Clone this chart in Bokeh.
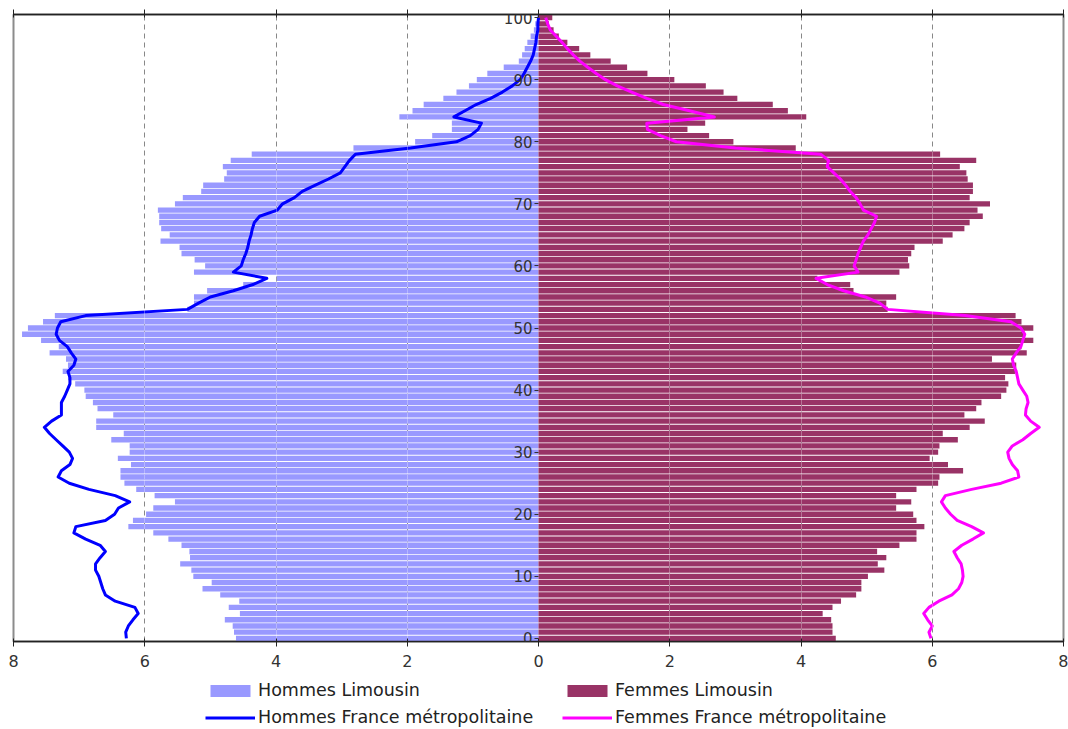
from bokeh.plotting import figure
from bokeh.layouts import column
from bokeh.models import (ColumnDataSource, Range1d, FixedTicker, LinearAxis,
                          Legend, LegendItem, Grid)
from bokeh.embed import file_html
from bokeh.resources import INLINE

ages = list(range(101))

hommes_limousin = [
    4.61, 4.64, 4.66, 4.78, 4.55, 4.72, 4.56, 4.85, 5.12, 4.98,
    5.26, 5.29, 5.46, 5.31, 5.32, 5.44, 5.64, 5.87, 6.25, 6.18,
    5.98, 5.87, 5.54, 5.85, 6.13, 6.31, 6.37, 6.37, 6.21, 6.41,
    6.23, 6.23, 6.51, 6.32, 6.74, 6.74, 6.48, 6.72, 6.79, 6.90,
    6.92, 7.06, 7.17, 7.25, 7.17, 7.20, 7.45, 7.31, 7.58, 7.87,
    7.78, 7.55, 7.37, 5.35, 5.25, 5.25, 5.05, 4.50, 3.99, 5.25,
    5.08, 5.24, 5.44, 5.47, 5.76, 5.62, 5.75, 5.78, 5.78, 5.80,
    5.54, 5.42, 5.14, 5.11, 4.79, 4.75, 4.81, 4.69, 4.37, 2.82,
    1.88, 1.62, 1.32, 1.32, 2.12, 1.92, 1.75, 1.45, 1.25, 1.06,
    0.94, 0.78, 0.53, 0.30, 0.25, 0.21, 0.17, 0.12, 0.07, 0.05,
    0.02,
]

femmes_limousin = [
    4.53, 4.48, 4.48, 4.46, 4.33, 4.48, 4.61, 4.84, 4.92, 4.92,
    5.02, 5.27, 5.17, 5.30, 5.16, 5.50, 5.76, 5.76, 5.88, 5.76,
    5.71, 5.45, 5.68, 5.45, 5.76, 6.09, 6.11, 6.47, 6.24, 5.96,
    6.09, 6.11, 6.39, 6.16, 6.57, 6.80, 6.49, 6.67, 6.75, 7.05,
    7.13, 7.16, 7.11, 7.26, 7.28, 6.91, 7.44, 7.36, 7.54, 7.41,
    7.54, 7.36, 7.27, 5.32, 5.30, 5.45, 4.80, 4.75, 4.25, 5.50,
    5.65, 5.63, 5.68, 5.73, 6.16, 6.31, 6.49, 6.57, 6.77, 6.69,
    6.88, 6.57, 6.62, 6.62, 6.54, 6.52, 6.42, 6.67, 6.12, 3.92,
    2.97, 2.60, 2.27, 2.54, 4.08, 3.80, 3.57, 3.03, 2.82, 2.55,
    2.07, 1.66, 1.35, 1.10, 0.79, 0.62, 0.44, 0.31, 0.23, 0.16,
    0.21,
]

hommes_france = [
    6.28, 6.29, 6.25, 6.18, 6.10, 6.15, 6.45, 6.60, 6.64, 6.67,
    6.70, 6.75, 6.75, 6.68, 6.60, 6.68, 6.90, 7.08, 7.05, 6.60,
    6.46, 6.40, 6.23, 6.45, 6.85, 7.15, 7.32, 7.27, 7.14, 7.10,
    7.15, 7.25, 7.35, 7.45, 7.53, 7.42, 7.27, 7.27, 7.27, 7.22,
    7.18, 7.14, 7.14, 7.17, 7.08, 7.05, 7.12, 7.18, 7.30, 7.35,
    7.33, 7.28, 6.90, 5.35, 5.18, 5.00, 4.65, 4.35, 4.14, 4.65,
    4.53, 4.50, 4.46, 4.43, 4.41, 4.38, 4.36, 4.33, 4.25, 3.98,
    3.90, 3.72, 3.60, 3.40, 3.20, 3.02, 2.95, 2.88, 2.79, 1.95,
    1.25, 1.04, 0.92, 0.87, 1.29, 1.12, 0.95, 0.73, 0.55, 0.40,
    0.28, 0.22, 0.17, 0.12, 0.08, 0.06, 0.04, 0.03, 0.01, 0.01,
    0.00,
]

femmes_france = [
    5.98, 5.95, 6.00, 5.93, 5.87, 5.95, 6.10, 6.30, 6.40, 6.45,
    6.47, 6.46, 6.44, 6.38, 6.33, 6.45, 6.62, 6.78, 6.60, 6.38,
    6.28, 6.20, 6.14, 6.20, 6.60, 7.05, 7.32, 7.30, 7.22, 7.17,
    7.15, 7.22, 7.38, 7.50, 7.63, 7.50, 7.42, 7.43, 7.46, 7.44,
    7.38, 7.32, 7.30, 7.28, 7.24, 7.22, 7.28, 7.35, 7.38, 7.41,
    7.35, 7.20, 6.50, 5.32, 5.20, 4.98, 4.65, 4.40, 4.23, 4.87,
    4.81, 4.84, 4.87, 4.91, 4.95, 5.02, 5.07, 5.12, 5.15, 4.95,
    4.90, 4.84, 4.75, 4.68, 4.60, 4.50, 4.40, 4.42, 4.30, 3.00,
    2.10, 1.86, 1.66, 1.65, 2.68, 2.30, 1.90, 1.65, 1.42, 1.20,
    1.02, 0.88, 0.75, 0.63, 0.53, 0.44, 0.36, 0.27, 0.18, 0.14,
    0.11,
]

x_ticks = [-8, -6, -4, -2, 0, 2, 4, 6, 8]
x_tick_labels = {t: str(abs(t)) for t in x_ticks}
grid_ticks = [-6, -4, -2, 2, 4, 6]
y_ticks = list(range(0, 101, 10))

label_hl = "Hommes Limousin"
label_fl = "Femmes Limousin"
label_hf = "Hommes France métropolitaine"
label_ff = "Femmes France métropolitaine"

COL_HL = "#9999ff"
COL_FL = "#993366"
COL_HF = "#0000ff"
COL_FF = "#ff00ff"

src = ColumnDataSource(data=dict(
    age=ages,
    hl=[-v for v in hommes_limousin],
    fl=femmes_limousin,
    hf=[-v for v in hommes_france],
    ff=femmes_france,
))

FONT = "DejaVu Sans"
TXT = "#333333"

p = figure(width=1068, height=680, output_backend="svg", toolbar_location=None,
           x_range=Range1d(-8, 8), y_range=Range1d(-0.5, 100.5),
           min_border_left=13, min_border_right=5, min_border_top=14,
           min_border_bottom=39, x_axis_location=None, y_axis_location=None)
p.outline_line_color = "#8c8c8c"
p.outline_line_width = 2
p.background_fill_color = "white"
p.border_fill_color = "white"

p.xgrid.visible = False
p.ygrid.visible = False
g = Grid(dimension=0, ticker=FixedTicker(ticks=grid_ticks),
         grid_line_color="#555555", grid_line_dash="5 4", grid_line_width=1)
p.add_layout(g)

bars_m = p.hbar(y="age", left="hl", right=0, height=0.86, source=src,
                fill_color=COL_HL, line_color=None)
bars_f = p.hbar(y="age", left=0, right="fl", height=0.86, source=src,
                fill_color=COL_FL, line_color=None)

g2 = Grid(dimension=0, ticker=FixedTicker(ticks=grid_ticks),
          grid_line_color="white", grid_line_alpha=0.3, grid_line_width=1,
          level="glyph")
p.add_layout(g2)

line_m = p.line(x="hf", y="age", source=src, line_color=COL_HF,
                line_width=3, line_join="round")
line_f = p.line(x="ff", y="age", source=src, line_color=COL_FF,
                line_width=3, line_join="round")

# bottom axis
xb = LinearAxis(ticker=FixedTicker(ticks=x_ticks),
                major_label_overrides=x_tick_labels)
xb.axis_line_color = "#222222"
xb.axis_line_width = 1.5
xb.major_tick_line_color = "#222222"
xb.major_tick_in = 3
xb.major_tick_out = 5
xb.minor_tick_line_color = None
xb.major_label_text_font = FONT
xb.major_label_text_font_size = "16px"
xb.major_label_text_color = TXT
xb.major_label_standoff = 8
p.add_layout(xb, "below")

# top axis (ticks only, no labels drawn)
xt = LinearAxis(ticker=FixedTicker(ticks=x_ticks))
xt.axis_line_color = "#222222"
xt.axis_line_width = 1.5
xt.major_tick_line_color = "#222222"
xt.major_tick_in = 3
xt.major_tick_out = 5
xt.minor_tick_line_color = None
xt.major_label_text_color = None
xt.major_label_text_font_size = "1px"
xt.major_label_standoff = 0
p.add_layout(xt, "above")

# central age axis
ya = LinearAxis(ticker=FixedTicker(ticks=y_ticks), fixed_location=0)
ya.axis_line_color = None
ya.major_tick_line_color = "#333333"
ya.major_tick_in = 0
ya.major_tick_out = 4
ya.minor_tick_line_color = None
ya.major_label_text_font = FONT
ya.major_label_text_font_size = "15px"
ya.major_label_text_color = TXT
ya.major_label_standoff = 2
p.add_layout(ya, "left")

# legend strip: a separate figure below the chart; its renderers share the
# data but are hidden, so only their legend swatches are drawn
q = figure(width=1068, height=49, output_backend="svg", toolbar_location=None,
           x_range=Range1d(-8, 8), y_range=Range1d(-1000, -999),
           min_border_left=0, min_border_right=0, min_border_top=0,
           min_border_bottom=0, x_axis_location=None, y_axis_location=None)
q.outline_line_color = None
q.xgrid.visible = False
q.ygrid.visible = False
lg_hl = q.hbar(y="age", left="hl", right=0, height=0.86, source=src,
               fill_color=COL_HL, line_color=None, visible=False)
lg_fl = q.hbar(y="age", left=0, right="fl", height=0.86, source=src,
               fill_color=COL_FL, line_color=None, visible=False)
lg_hf = q.line(x="hf", y="age", source=src, line_color=COL_HF, line_width=3,
               visible=False)
lg_ff = q.line(x="ff", y="age", source=src, line_color=COL_FF, line_width=3,
               visible=False)


def make_legend(items, loc):
    return Legend(items=items, location=loc, orientation="vertical",
                  padding=0, margin=0, spacing=7, glyph_width=50,
                  glyph_height=15, label_height=18, label_standoff=3,
                  border_line_color=None, background_fill_alpha=0,
                  inactive_fill_alpha=0, click_policy="none",
                  label_text_font=FONT, label_text_font_size="17.5px",
                  label_text_color="#222222")


leg1 = make_legend([LegendItem(label=label_hl, renderers=[lg_hl]),
                    LegendItem(label=label_hf, renderers=[lg_hf])], (192, 2))
leg2 = make_legend([LegendItem(label=label_fl, renderers=[lg_fl]),
                    LegendItem(label=label_ff, renderers=[lg_ff])], (549, 2))
q.add_layout(leg1)
q.add_layout(leg2)

layout = column(p, q, spacing=0)
open("out.html", "w").write(file_html(layout, INLINE))
